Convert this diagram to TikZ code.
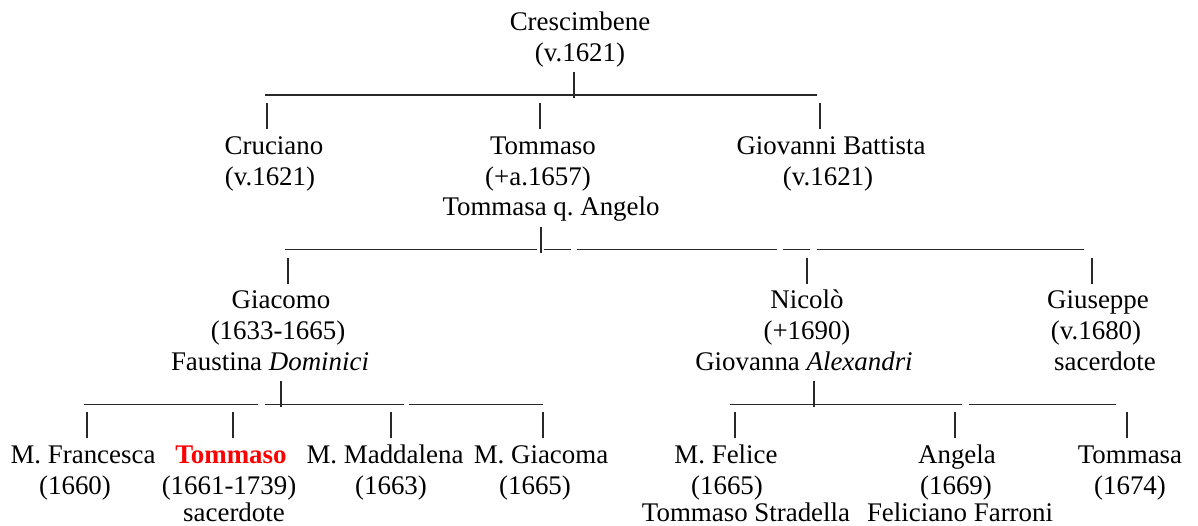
\documentclass[tikz,border=0pt]{standalone}
\usepackage{fontspec}
\setmainfont{LiberationSerif}[Extension=.ttf,
  UprightFont=*-Regular, BoldFont=*-Bold,
  ItalicFont=*-Italic, BoldItalicFont=*-BoldItalic]
\definecolor{hilite}{RGB}{255,0,0}
\definecolor{linecol}{RGB}{40,40,40}
\frenchspacing
\begin{document}
\begin{tikzpicture}[x=1pt,y=-1pt,
  every node/.style={font=\fontsize{26.9}{30.9}\selectfont, inner sep=0pt, anchor=base, text depth=0pt},
  conn/.style={line width=1.2pt, linecol},
  hl/.style={text=hilite, font=\fontsize{26.9}{30.9}\selectfont\bfseries}]
\useasboundingbox (0,0) rectangle (1198,526);

% ---------- generation 1
\node (cresc) at (580,30.6) {Crescimbene};
\node (crescd) at (580,61.5) {(v.1621)};

% ---------- generation 2
\node (cruc) at (274,154.2) {Cruciano};
\node (crucd) at (270,185.1) {(v.1621)};
\node (tom) at (543,154.2) {Tommaso};
\node (tomd) at (538,185.1) {(+a.1657)};
\node (tomw) at (551,216.0) {Tommasa q. Angelo};
\node (giob) at (831,154.2) {Giovanni Battista};
\node (giobd) at (828,185.1) {(v.1621)};

% ---------- generation 3
\node (giac) at (281,308.7) {Giacomo};
\node (giacd) at (278,339.6) {(1633-1665)};
\node (giacw) at (270,370.5) {Faustina \textit{Dominici}};
\node (nic) at (807,308.7) {Nicolò};
\node (nicd) at (807,339.6) {(+1690)};
\node (nicw) at (804,370.5) {Giovanna \textit{Alexandri}};
\node (gius) at (1098,308.7) {Giuseppe};
\node (giusd) at (1096,339.6) {(v.1680)};
\node (giuss) at (1105,370.5) {sacerdote};

% ---------- generation 4
\node (fra) at (83,463.2) {M. Francesca};
\node (frad) at (75,494.1) {(1660)};
\node[hl] (tom2) at (231,463.2) {Tommaso};
\node (tom2d) at (229,494.1) {(1661-1739)};
\node (tom2s) at (234,521.0) {sacerdote};
\node (mad) at (385,463.2) {M. Maddalena};
\node (madd) at (391,494.1) {(1663)};
\node (gia) at (541,463.2) {M. Giacoma};
\node (giad) at (535,494.1) {(1665)};
\node (fel) at (726,463.2) {M. Felice};
\node (feld) at (727,494.1) {(1665)};
\node (felw) at (746,521.0) {Tommaso Stradella};
\node (ang) at (957,463.2) {Angela};
\node (angd) at (956,494.1) {(1669)};
\node (angw) at (960,521.0) {Feliciano Farroni};
\node (tma) at (1130,463.2) {Tommasa};
\node (tmad) at (1130,494.1) {(1674)};

% ---------- connectors: Crescimbene's children
\coordinate (c1top) at (574,72.4);
\coordinate (c1bot) at (574,98.2);
\draw[conn] (c1top) -- (c1bot);
\coordinate (l1a) at (265,95.1);
\coordinate (l1b) at (817,95.1);
\draw[conn] (l1a) -- (l1b);
\foreach \x/\n in {267/p1,540/p2,820/p3}{
  \coordinate (\n t) at (\x,103.3);
  \coordinate (\n b) at (\x,129.1);
  \draw[conn] (\n t) -- (\n b);
}

% ---------- connectors: Tommaso's children
\coordinate (c2top) at (541,226.9);
\coordinate (c2bot) at (541,252.7);
\draw[conn] (c2top) -- (c2bot);
\foreach \a/\b in {285/537,544/571,577/777,783/810,817/1084}{
  \draw[conn] (\a,249.6) -- (\b,249.6);
}
\foreach \x/\n in {288/q1,807/q2,1092/q3}{
  \coordinate (\n t) at (\x,257.8);
  \coordinate (\n b) at (\x,283.6);
  \draw[conn] (\n t) -- (\n b);
}

% ---------- connectors: Giacomo's children
\coordinate (c3top) at (281,381.4);
\coordinate (c3bot) at (281,407.2);
\draw[conn] (c3top) -- (c3bot);
\foreach \a/\b in {84/258,265/404,409/543}{
  \draw[conn] (\a,404.1) -- (\b,404.1);
}
% ---------- connectors: Nicolò's children
\coordinate (c4top) at (814,381.4);
\coordinate (c4bot) at (814,407.2);
\draw[conn] (c4top) -- (c4bot);
\foreach \a/\b in {730/962,969/1116}{
  \draw[conn] (\a,404.1) -- (\b,404.1);
}
\foreach \x/\n in {87/r1,233/r2,391/r3,543/r4,735/r5,955/r6,1127/r7}{
  \coordinate (\n t) at (\x,412.3);
  \coordinate (\n b) at (\x,438.1);
  \draw[conn] (\n t) -- (\n b);
}
\end{tikzpicture}
\end{document}
